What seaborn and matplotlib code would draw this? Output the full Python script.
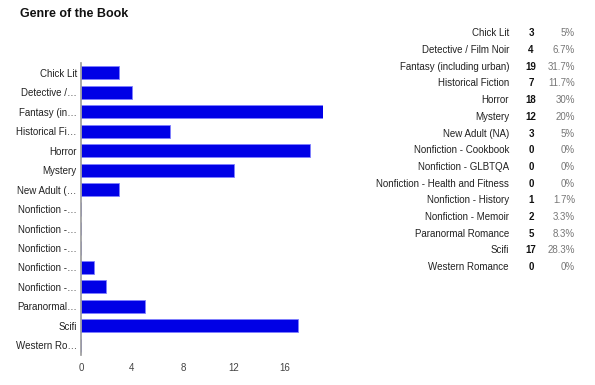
import pandas as pd
import matplotlib
matplotlib.use("Agg")
import matplotlib.pyplot as plt
import seaborn as sns

# Data
genres = [
    "Chick Lit", "Detective / Film Noir", "Fantasy (including urban)",
    "Historical Fiction", "Horror", "Mystery", "New Adult (NA)",
    "Nonfiction - Cookbook", "Nonfiction - GLBTQA",
    "Nonfiction - Health and Fitness", "Nonfiction - History",
    "Nonfiction - Memoir", "Paranormal Romance", "Scifi", "Western Romance",
]
short_labels = [
    "Chick Lit", "Detective /…", "Fantasy (in…", "Historical Fi…", "Horror",
    "Mystery", "New Adult (…", "Nonfiction -…", "Nonfiction -…",
    "Nonfiction -…", "Nonfiction -…", "Nonfiction -…", "Paranormal…",
    "Scifi", "Western Ro…",
]
counts = [3, 4, 19, 7, 18, 12, 3, 0, 0, 0, 1, 2, 5, 17, 0]
percents = ["5%", "6.7%", "31.7%", "11.7%", "30%", "20%", "5%", "0%", "0%",
            "0%", "1.7%", "3.3%", "8.3%", "28.3%", "0%"]
x_ticks = [0, 4, 8, 12, 16]

df = pd.DataFrame({"genre": genres, "count": counts})

sns.set_theme(style="white")
plt.rcParams["font.family"] = ["Liberation Sans", "DejaVu Sans"]

fig = plt.figure(figsize=(5.95, 3.85), dpi=100)
ax = fig.add_axes([0.136, 0.078, 0.407, 0.758])

sns.barplot(
    data=df, x="count", y="genre", orient="h", ax=ax,
    color="#0000e6", saturation=1, width=0.68,
    edgecolor="#8080ff", linewidth=0.6,
)
ax.set_xlim(0, 19)
ax.set_xticks(x_ticks)
ax.set_xticklabels([str(t) for t in x_ticks], fontsize=7, color="#444444")
ax.set_yticks(range(len(genres)))
ax.set_yticklabels(short_labels, fontsize=7, color="#222222")
ax.set_xlabel("")
ax.set_ylabel("")
ax.tick_params(axis="both", length=0, pad=3)
ax.tick_params(axis="x", pad=6)
for s in ["top", "right", "bottom"]:
    ax.spines[s].set_visible(False)
ax.spines["left"].set_color("#999999")
ax.spines["left"].set_linewidth(1.2)

fig.text(20 / 595, 1 - 14 / 385, "Genre of the Book", fontsize=9,
         fontweight="bold", va="center", ha="left", color="#111111")

# Summary table on the right
y0 = 33.3
dy = 16.7
for i, (g, c, p) in enumerate(zip(genres, counts, percents)):
    y = 1 - (y0 + i * dy) / 385
    fig.text(509 / 595, y, g, ha="right", va="center", fontsize=7,
             color="#222222")
    fig.text(531 / 595, y, str(c), ha="center", va="center", fontsize=7,
             fontweight="bold", color="#111111")
    fig.text(575 / 595, y, p, ha="right", va="center", fontsize=7,
             color="#777777")

plt.savefig("out.png", dpi=100)
